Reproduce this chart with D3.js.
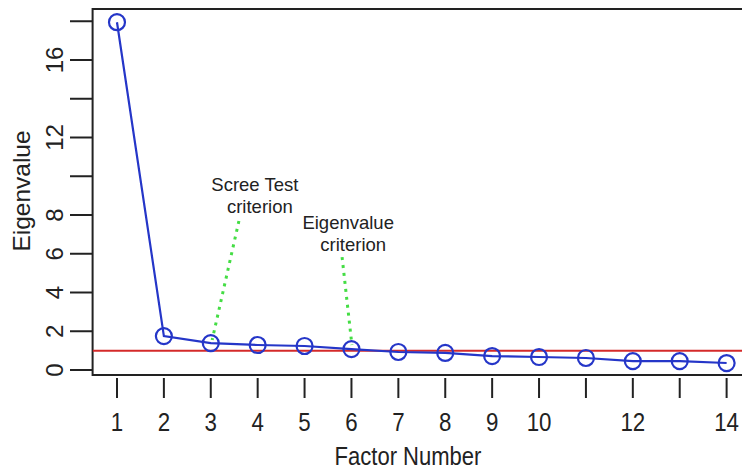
<!DOCTYPE html>
<html><head><meta charset="utf-8">
<script src="https://cdn.jsdelivr.net/npm/d3@7"></script>
<style>body{margin:0;background:#fff;} svg{display:block;font-family:"Liberation Sans",Arial,sans-serif;}</style>
</head><body>
<svg id="c" width="742" height="470"></svg>
<script>
const factors = [1,2,3,4,5,6,7,8,9,10,11,12,13,14];
const eigenvalues = [17.95,1.75,1.39,1.29,1.24,1.08,0.93,0.88,0.72,0.67,0.62,0.46,0.46,0.36];
const xTicks = [1,2,3,4,5,6,7,8,9,10,11,12,13,14];
const xTickLabels = [1,2,3,4,5,6,7,8,9,10,12,14];
const yTicks = [0,2,4,6,8,10,12,14,16,18];
const yTickLabels = [0,2,4,6,8,12,16];
const criterionValue = 1;
const annotations = [
  {lines:["Scree Test","criterion"], x:3.94, y:9.24, from:[3.60,7.69], to:[3.03,1.55]},
  {lines:["Eigenvalue","criterion"], x:5.93, y:7.28, from:[5.80,5.83], to:[6.01,1.29]}
];

const svg = d3.select("#c");
const x = d3.scaleLinear().domain([0.48,14.52]).range([92.6,751]);
const y = d3.scaleLinear().domain([0,18]).range([370,21.25]);
const frameTop = 9, frameBottom = 375;
const blue = "#2536c8";
const ink = "#222";

// frame
svg.append("rect").attr("x",x(0.48)).attr("y",frameTop).attr("width",x(14.52)-x(0.48)).attr("height",frameBottom-frameTop)
  .attr("fill","none").attr("stroke",ink).attr("stroke-width",2);

// x axis ticks
const xg = svg.append("g");
xg.selectAll("line").data(xTicks).join("line")
  .attr("x1",d=>x(d)).attr("x2",d=>x(d)).attr("y1",378).attr("y2",398)
  .attr("stroke",ink).attr("stroke-width",2);
xg.selectAll("text").data(xTickLabels).join("text")
  .attr("transform",d=>`translate(${x(d)},431) scale(0.95,1.08)`).attr("text-anchor","middle")
  .attr("font-size",23.5).attr("fill",ink).text(d=>d);

// y axis ticks
const yg = svg.append("g");
yg.selectAll("line").data(yTicks).join("line")
  .attr("x1",70).attr("x2",92.6).attr("y1",d=>y(d)).attr("y2",d=>y(d))
  .attr("stroke",ink).attr("stroke-width",2);
yg.selectAll("text").data(yTickLabels).join("text")
  .attr("transform",d=>`translate(63,${y(d)}) rotate(-90)`)
  .attr("text-anchor","middle").attr("font-size",24).attr("fill",ink).text(d=>d);

// axis titles
svg.append("text").attr("transform","translate(408,465) scale(0.9,1.05)").attr("text-anchor","middle")
  .attr("font-size",24.5).attr("fill",ink).text("Factor Number");
svg.append("text").attr("transform","translate(30,191) rotate(-90)").attr("text-anchor","middle")
  .attr("font-size",24.5).attr("fill",ink).text("Eigenvalue");

// clip
svg.append("clipPath").attr("id","clip").append("rect")
  .attr("x",x(0.48)).attr("y",frameTop).attr("width",x(14.52)-x(0.48)).attr("height",frameBottom-frameTop);
const plot = svg.append("g").attr("clip-path","url(#clip)");

// red criterion line
plot.append("line").attr("x1",x(0.48)).attr("x2",x(14.52)).attr("y1",y(criterionValue)).attr("y2",y(criterionValue))
  .attr("stroke","#d42a2a").attr("stroke-width",2);

// annotations
annotations.forEach(a=>{
  plot.append("line").attr("x1",x(a.from[0])).attr("y1",y(a.from[1])).attr("x2",x(a.to[0])).attr("y2",y(a.to[1]))
    .attr("stroke","#44dd44").attr("stroke-width",3).attr("stroke-dasharray","3,5");
  a.lines.forEach((t,i)=>{
    plot.append("text").attr("x",x(a.x)+(i? 5:0)).attr("y",y(a.y)+i*22.5).attr("text-anchor","middle")
      .attr("font-size",18.5).attr("fill",ink).text(t);
  });
});

// series line
const pts = factors.map((f,i)=>[f,eigenvalues[i]]);
plot.append("path").datum(pts).attr("fill","none").attr("stroke",blue).attr("stroke-width",2.2)
  .attr("d",d3.line().x(d=>x(d[0])).y(d=>y(d[1])));
plot.selectAll("circle").data(pts).join("circle")
  .attr("cx",d=>x(d[0])).attr("cy",d=>y(d[1])).attr("r",8)
  .attr("fill","none").attr("stroke",blue).attr("stroke-width",2.2);
</script>
</body></html>
